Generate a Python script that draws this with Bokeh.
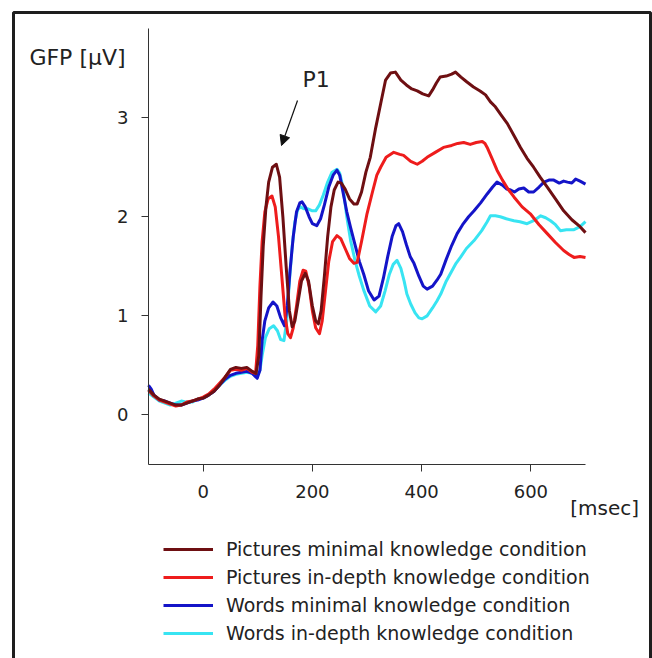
from bokeh.plotting import figure
from bokeh.models import (Range1d, Legend, LegendItem, Label, Arrow, NormalHead,
                          BoxAnnotation, FixedTicker)
from bokeh.embed import file_html
from bokeh.resources import INLINE

# ---------------- data ----------------
t_pic_min = [-100, -90, -80, -70, -60, -50, -40, -30, -20, -10, 0, 10, 20, 30, 40, 50, 60, 70, 80, 90, 97,
             102, 106, 110, 115, 120, 127, 134, 140, 146, 152, 158, 163, 168, 174, 180, 187, 193, 200, 206,
             211, 216, 222, 228, 234, 240, 247, 253, 260, 268, 276, 282, 290, 298, 306, 316, 325, 334, 343,
             352, 362, 372, 382, 392, 402, 413, 420, 427, 434, 445, 455, 462, 472, 483, 495, 507, 517, 526,
             535, 545, 557, 569, 581, 593, 605, 617, 630, 645, 660, 675, 690, 700]
v_pic_min = [0.26, 0.20, 0.16, 0.14, 0.12, 0.10, 0.10, 0.12, 0.14, 0.16, 0.17, 0.20, 0.24, 0.30, 0.38, 0.46,
             0.48, 0.47, 0.48, 0.44, 0.42, 0.60, 1.20, 1.70, 2.10, 2.35, 2.50, 2.53, 2.40, 2.00, 1.50, 1.05,
             0.89, 0.95, 1.15, 1.35, 1.43, 1.35, 1.10, 0.95, 0.92, 1.05, 1.40, 1.80, 2.10, 2.27, 2.35, 2.34,
             2.28, 2.18, 2.13, 2.13, 2.25, 2.45, 2.60, 2.90, 3.14, 3.38, 3.45, 3.46, 3.38, 3.33, 3.29, 3.27,
             3.24, 3.22, 3.28, 3.35, 3.41, 3.42, 3.44, 3.46, 3.41, 3.36, 3.31, 3.27, 3.23, 3.16, 3.11, 3.03,
             2.94, 2.82, 2.70, 2.59, 2.50, 2.40, 2.30, 2.18, 2.06, 1.97, 1.90, 1.84]

t_pic_ind = [-100, -90, -80, -70, -60, -50, -40, -30, -20, -10, 0, 10, 20, 30, 40, 50, 60, 70, 80, 90, 96,
             100, 104, 108, 113, 119, 126, 132, 138, 144, 150, 155, 160, 165, 171, 177, 183, 188, 194, 200,
             206, 213, 218, 224, 230, 237, 245, 252, 260, 268, 276, 282, 290, 300, 310, 318, 325, 335, 349,
             360, 367, 380, 392, 401, 410, 425, 440, 455, 466, 477, 489, 500, 511, 516, 520, 528, 538, 548,
             558, 569, 584, 599, 615, 630, 645, 660, 670, 679, 690, 700]
v_pic_ind = [0.25, 0.19, 0.15, 0.13, 0.11, 0.09, 0.10, 0.13, 0.14, 0.16, 0.18, 0.21, 0.26, 0.32, 0.38, 0.45,
             0.46, 0.45, 0.47, 0.43, 0.42, 0.70, 1.30, 1.75, 2.05, 2.18, 2.21, 2.10, 1.80, 1.40, 1.00, 0.82,
             0.78, 0.88, 1.10, 1.35, 1.46, 1.45, 1.30, 1.05, 0.88, 0.82, 0.95, 1.25, 1.55, 1.75, 1.81, 1.78,
             1.68, 1.58, 1.53, 1.54, 1.75, 2.03, 2.25, 2.42, 2.50, 2.60, 2.65, 2.63, 2.62, 2.56, 2.53, 2.56,
             2.60, 2.65, 2.70, 2.72, 2.74, 2.75, 2.73, 2.75, 2.76, 2.74, 2.70, 2.60, 2.47, 2.37, 2.28, 2.20,
             2.10, 2.03, 1.92, 1.83, 1.74, 1.66, 1.62, 1.59, 1.60, 1.59]

t_word_min = [-100, -95, -90, -80, -70, -60, -50, -40, -30, -20, -10, 0, 10, 20, 30, 40, 50, 60, 70, 80, 90,
              99, 104, 108, 113, 120, 128, 135, 142, 149, 154, 159, 165, 171, 177, 181, 187, 194, 200, 208,
              215, 222, 230, 238, 245, 250, 256, 263, 270, 278, 286, 294, 303, 313, 322, 330, 338, 346, 353,
              358, 365, 372, 379, 386, 395, 403, 410, 420, 428, 435, 445, 455, 465, 475, 486, 496, 508, 520,
              530, 538, 548, 556, 563, 570, 578, 587, 596, 605, 615, 624, 633, 642, 652, 660, 667, 675, 682,
              690, 700]
v_word_min = [0.30, 0.26, 0.20, 0.15, 0.14, 0.12, 0.10, 0.10, 0.12, 0.14, 0.15, 0.17, 0.20, 0.24, 0.30, 0.36,
              0.40, 0.42, 0.43, 0.44, 0.42, 0.37, 0.45, 0.75, 0.95, 1.08, 1.14, 1.10, 0.98, 0.90, 1.10, 1.45,
              1.80, 2.05, 2.14, 2.15, 2.10, 2.00, 1.93, 1.91, 1.98, 2.12, 2.30, 2.42, 2.47, 2.42, 2.25, 2.05,
              1.89, 1.72, 1.55, 1.42, 1.25, 1.16, 1.20, 1.38, 1.60, 1.80, 1.91, 1.93, 1.85, 1.72, 1.60, 1.53,
              1.40, 1.30, 1.27, 1.30, 1.36, 1.42, 1.57, 1.71, 1.83, 1.92, 2.00, 2.06, 2.14, 2.23, 2.30, 2.35,
              2.32, 2.28, 2.27, 2.25, 2.28, 2.29, 2.25, 2.25, 2.30, 2.35, 2.37, 2.37, 2.34, 2.36, 2.35, 2.34,
              2.38, 2.36, 2.33]

t_word_ind = [-100, -90, -80, -70, -60, -50, -40, -32, -20, -10, 0, 10, 20, 30, 40, 50, 60, 70, 80, 90, 99,
              104, 108, 114, 121, 129, 136, 142, 148, 153, 158, 163, 168, 173, 178, 185, 192, 200, 206, 213,
              220, 228, 236, 245, 250, 256, 263, 270, 278, 286, 294, 305, 316, 325, 333, 341, 348, 355, 362,
              368, 373, 380, 388, 395, 401, 410, 420, 428, 435, 445, 455, 463, 471, 482, 496, 510, 520, 526,
              535, 544, 555, 569, 580, 593, 605, 618, 627, 636, 645, 654, 665, 679, 690, 700]
v_word_ind = [0.22, 0.18, 0.14, 0.12, 0.10, 0.12, 0.14, 0.13, 0.13, 0.16, 0.17, 0.20, 0.24, 0.30, 0.35, 0.39,
              0.41, 0.42, 0.43, 0.42, 0.40, 0.45, 0.60, 0.78, 0.87, 0.90, 0.85, 0.76, 0.75, 0.95, 1.35, 1.70,
              1.95, 2.07, 2.10, 2.08, 2.08, 2.06, 2.06, 2.12, 2.22, 2.35, 2.45, 2.48, 2.44, 2.30, 2.00, 1.76,
              1.56, 1.40, 1.26, 1.10, 1.04, 1.10, 1.25, 1.42, 1.52, 1.56, 1.48, 1.35, 1.22, 1.12, 1.03, 0.98,
              0.97, 1.00, 1.08, 1.15, 1.22, 1.35, 1.45, 1.53, 1.59, 1.68, 1.76, 1.86, 1.95, 2.01, 2.01, 2.00,
              1.98, 1.96, 1.95, 1.93, 1.96, 2.01, 1.99, 1.96, 1.92, 1.86, 1.87, 1.87, 1.90, 1.95]

series_labels = ["Pictures minimal knowledge condition",
                 "Pictures in-depth knowledge condition",
                 "Words minimal knowledge condition",
                 "Words in-depth knowledge condition"]
series_colors = ["#6e0f12", "#ee1c1c", "#1414c8", "#38e4f2"]

x_ticks = [0, 200, 400, 600]
y_ticks = [0, 1, 2, 3]
x_axis_span = (-100, 700)
y_axis_span = (-0.5, 3.9)

FONT = "DejaVu Sans"
TXT = "#222222"

# ---------------- figure ----------------
# The frame covers the whole canvas; the axes sit at fixed data locations
# inside it so that texts, legend and border around the plot are not clipped.
W, H = 652, 658
AX_L, AX_R, AX_T, AX_B = 148, 585, 28, 464        # pixel extent of the axes box
sx = (x_axis_span[1] - x_axis_span[0]) / (AX_R - AX_L)
sy = (y_axis_span[1] - y_axis_span[0]) / (AX_B - AX_T)
xr = Range1d(x_axis_span[0] - AX_L * sx, x_axis_span[1] + (W - AX_R) * sx)
yr = Range1d(y_axis_span[0] - (H - AX_B) * sy, y_axis_span[1] + AX_T * sy)

p = figure(width=W, height=H, output_backend="svg", toolbar_location=None,
           x_range=xr, y_range=yr, min_border=0)
p.title = None
p.outline_line_color = None
p.grid.visible = False
p.background_fill_color = "white"
p.border_fill_color = "white"

p.xaxis.fixed_location = y_axis_span[0]
p.yaxis.fixed_location = x_axis_span[0]
p.xaxis.bounds = x_axis_span
p.yaxis.bounds = y_axis_span
for ax in (p.xaxis[0], p.yaxis[0]):
    ax.axis_line_color = "#333333"
    ax.axis_line_width = 1
    ax.major_tick_line_color = "#333333"
    ax.major_tick_out = 7
    ax.major_tick_in = 0
    ax.minor_tick_line_color = None
    ax.major_label_text_font = FONT
    ax.major_label_text_font_size = "18px"
    ax.major_label_text_color = TXT
p.xaxis.ticker = FixedTicker(ticks=x_ticks)
p.yaxis.ticker = FixedTicker(ticks=y_ticks)
p.xaxis.major_label_standoff = 13
p.yaxis.major_label_standoff = 13

series = [(t_pic_min, v_pic_min), (t_pic_ind, v_pic_ind), (t_word_min, v_word_min), (t_word_ind, v_word_ind)]
rmap = {}
for i in [3, 2, 1, 0]:
    t, v = series[i]
    rmap[i] = p.line(t, v, line_color=series_colors[i], line_width=3, line_join="round")
items = [LegendItem(label=series_labels[i], renderers=[rmap[i]]) for i in range(4)]

legend = Legend(items=items, location=(163, 14), border_line_color=None,
                background_fill_alpha=0, padding=0, margin=0, spacing=6,
                glyph_width=50, glyph_height=20, label_height=20, label_standoff=13,
                label_text_font=FONT, label_text_font_size="19px", label_text_color=TXT)
p.add_layout(legend, "center")

# texts
p.add_layout(Label(x=-318, y=3.607, text="GFP [μV]", text_font=FONT, text_font_size="22px",
                   text_color=TXT, text_baseline="alphabetic"))
p.add_layout(Label(x=182, y=3.385, text="P1", text_font=FONT, text_font_size="22px",
                   text_color=TXT, text_baseline="alphabetic"))
p.add_layout(Label(x=672, y=-0.944, text="[msec]", text_font=FONT, text_font_size="20px",
                   text_color=TXT, text_baseline="alphabetic"))

p.add_layout(Arrow(end=NormalHead(size=10, fill_color="#111111", line_color="#111111"),
                   x_start=172.8, y_start=3.173, x_end=143.5, y_end=2.719,
                   line_color="#111111", line_width=1.2))

# outer frame border
p.add_layout(BoxAnnotation(left=13, right=650, top=12, bottom=720,
                           left_units="canvas", right_units="canvas",
                           top_units="canvas", bottom_units="canvas",
                           fill_alpha=0, line_color="#1e1e1e", line_width=3, line_alpha=1))

open("out.html", "w").write(file_html(p, INLINE))
